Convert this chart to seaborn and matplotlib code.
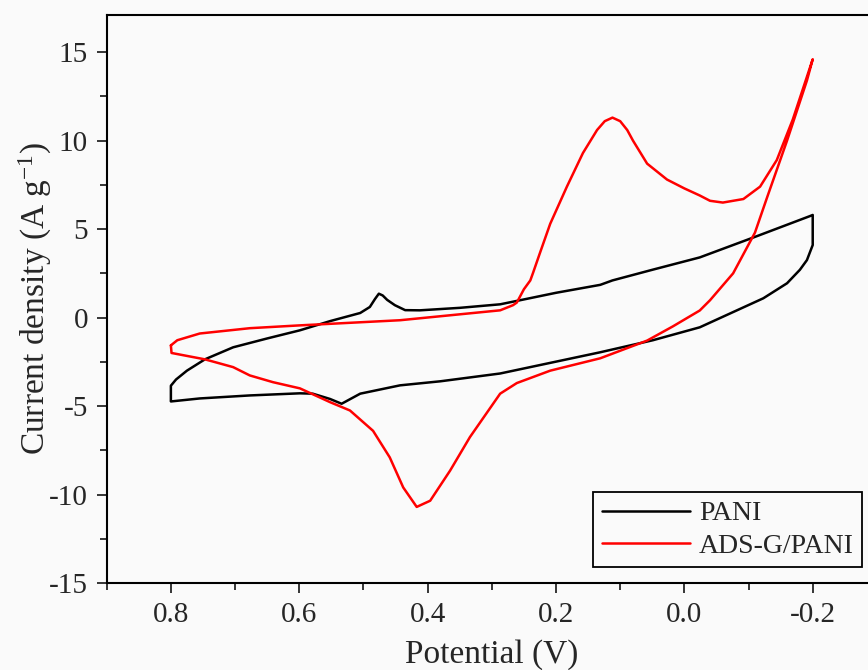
import numpy as np
import pandas as pd
import matplotlib
matplotlib.use("Agg")
import matplotlib.pyplot as plt
import seaborn as sns
from matplotlib.ticker import MultipleLocator

# PANI loop: upper branch 0.8 -> -0.2, then back along lower branch
pani_v = [0.800, 0.800, 0.792, 0.775, 0.747, 0.703, 0.650, 0.599, 0.552, 0.505,
          0.490, 0.482, 0.476, 0.470, 0.463, 0.451, 0.435, 0.412, 0.350, 0.287, 0.256, 0.200,
          0.131, 0.112, 0.050, -0.024, -0.110, -0.196, -0.200,
          -0.200, -0.191, -0.180, -0.160, -0.123, -0.024, 0.049, 0.131, 0.287,
          0.380, 0.443, 0.505, 0.534, 0.552, 0.579, 0.599, 0.677, 0.755, 0.800]
pani_j = [-4.70, -3.85, -3.50, -3.00, -2.36, -1.68, -1.18, -0.72, -0.20, 0.26,
          0.60, 1.05, 1.35, 1.25, 1.00, 0.70, 0.42, 0.41, 0.55, 0.75, 0.98, 1.40,
          1.85, 2.10, 2.70, 3.40, 4.56, 5.74, 5.80,
          4.10, 3.25, 2.70, 1.94, 1.09, -0.55, -1.28, -1.96, -3.16,
          -3.60, -3.83, -4.30, -4.87, -4.60, -4.30, -4.28, -4.40, -4.57, -4.74]

# ADS-G/PANI loop
ads_v = [0.800, 0.790, 0.755, 0.677, 0.599, 0.443, 0.287, 0.267, 0.261, 0.250,
         0.240, 0.236, 0.225, 0.209, 0.183, 0.158, 0.136, 0.124, 0.112, 0.100, 0.089, 0.080,
         0.058, 0.027, 0.000, -0.024, -0.040, -0.060, -0.092, -0.118, -0.144,
         -0.169, -0.200,
         -0.191, -0.160, -0.129, -0.110, -0.076, -0.040, -0.024, 0.018, 0.058,
         0.131, 0.209, 0.261, 0.287, 0.334, 0.365, 0.396, 0.417, 0.438, 0.459,
         0.485, 0.521, 0.552, 0.599, 0.641, 0.677, 0.703, 0.747, 0.799, 0.800]
ads_j = [-1.57, -1.28, -0.90, -0.60, -0.44, -0.15, 0.41, 0.70, 0.85, 1.60,
         2.10, 2.50, 3.65, 5.30, 7.40, 9.30, 10.60, 11.10, 11.30, 11.10, 10.60, 10.00,
         8.70, 7.80, 7.30, 6.90, 6.60, 6.50, 6.70, 7.40, 8.90,
         11.20, 14.60,
         13.40, 10.00, 6.80, 4.80, 2.50, 0.98, 0.40, -0.50, -1.30,
         -2.30, -3.00, -3.70, -4.30, -6.75, -8.65, -10.35, -10.70, -9.60, -7.90,
         -6.40, -5.25, -4.78, -4.00, -3.65, -3.27, -2.80, -2.36, -2.00, -1.57]

labels = ["PANI", "ADS-G/PANI"]
colors = ["black", "red"]
xticks = [0.8, 0.6, 0.4, 0.2, 0.0, -0.2]
xticklabels = ["0.8", "0.6", "0.4", "0.2", "0.0", "-0.2"]

sns.set_style("ticks")
plt.rcParams["font.family"] = ["Liberation Serif", "DejaVu Serif"]
plt.rcParams["mathtext.default"] = "regular"
plt.rcParams["axes.unicode_minus"] = False

bg = "#fafafa"
fig = plt.figure(figsize=(8.68, 6.70), dpi=100, facecolor=bg)
ax = fig.add_axes([106.7 / 868, 87 / 670, 770.2 / 868, 568 / 670])
ax.set_facecolor(bg)

for lab, col, v, j in zip(labels, colors, [pani_v, ads_v], [pani_j, ads_j]):
    sns.lineplot(x=v, y=j, sort=False, estimator=None, errorbar=None,
                 color=col, linewidth=1.8, ax=ax, label=lab)

ax.set_xlim(0.9, -0.3)
ax.set_ylim(-15, 17.1)
ax.set_xticks(xticks)
ax.set_xticklabels(xticklabels)
ax.xaxis.set_minor_locator(MultipleLocator(0.1))
ax.yaxis.set_major_locator(MultipleLocator(5))
ax.yaxis.set_minor_locator(MultipleLocator(2.5))
ax.tick_params(which="major", direction="out", length=7.5, width=1.3, labelsize=21, pad=6)
ax.tick_params(which="minor", direction="out", length=5, width=1.3)
for s in ax.spines.values():
    s.set_linewidth(1.5)
    s.set_color("black")

ax.set_xlabel("Potential (V)", fontsize=24, labelpad=8)
ax.set_ylabel("Current density (A g$^{-1}$)", fontsize=24)
ax.yaxis.set_label_coords(-0.069, 0.5)

leg = ax.legend(loc="lower right", bbox_to_anchor=(0.9807, 0.0282), borderaxespad=0,
                fontsize=20, frameon=True, fancybox=False, handlelength=3.2,
                handletextpad=0.3, labelspacing=0.25, borderpad=0.3)
leg.get_frame().set_edgecolor("black")
leg.get_frame().set_linewidth(1.3)
leg.get_frame().set_facecolor(bg)
leg.get_frame().set_alpha(1)

fig.savefig("out.png", dpi=100, facecolor=bg)
